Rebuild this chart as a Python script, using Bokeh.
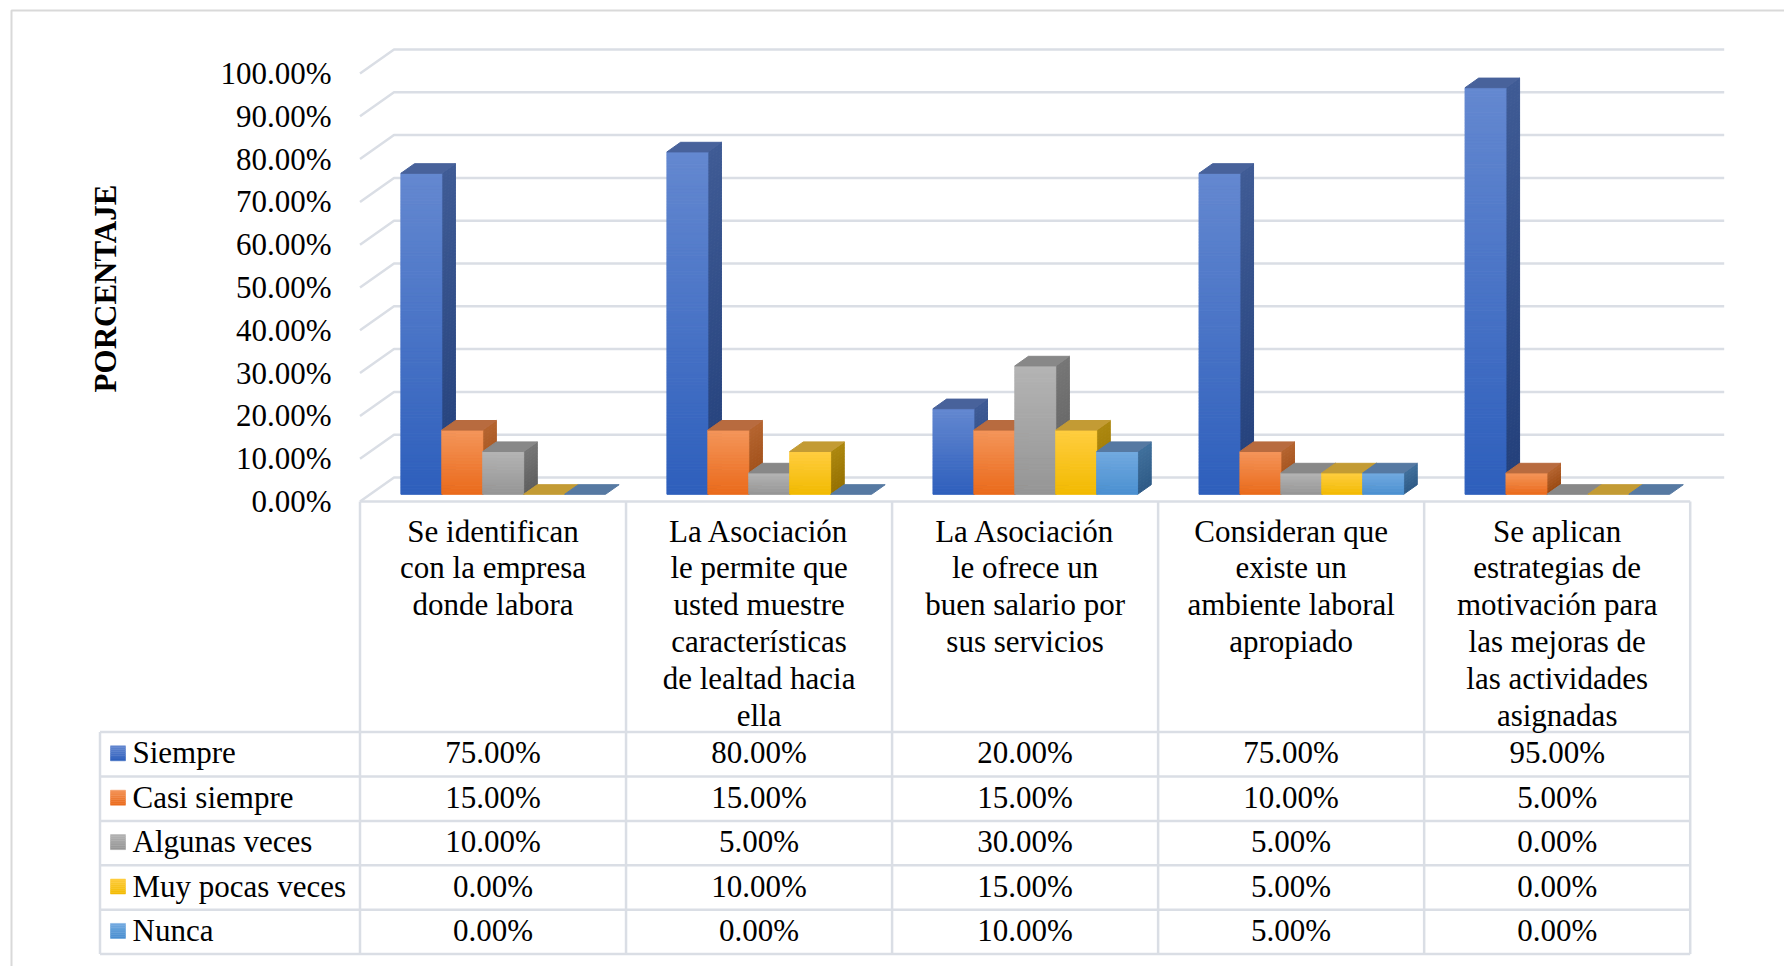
import numpy as np
from bokeh.plotting import figure
from bokeh.models import Range1d
from bokeh.embed import file_html
from bokeh.resources import INLINE
from bokeh.core.properties import value

# ---------------- data ----------------
categories = [
    "Se identifican\ncon la empresa\ndonde labora",
    "La Asociación\nle permite que\nusted muestre\ncaracterísticas\nde lealtad hacia\nella",
    "La Asociación\nle ofrece un\nbuen salario por\nsus servicios",
    "Consideran que\nexiste un\nambiente laboral\napropiado",
    "Se aplican\nestrategias de\nmotivación para\nlas mejoras de\nlas actividades\nasignadas",
]
series_names = ["Siempre", "Casi siempre", "Algunas veces", "Muy pocas veces", "Nunca"]
siempre = [75, 80, 20, 75, 95]
casi_siempre = [15, 15, 15, 10, 5]
algunas_veces = [10, 5, 30, 5, 0]
muy_pocas_veces = [0, 10, 15, 5, 0]
nunca = [0, 0, 10, 5, 0]
y_ticks = [0, 10, 20, 30, 40, 50, 60, 70, 80, 90, 100]
y_tick_labels = ["0.00%", "10.00%", "20.00%", "30.00%", "40.00%", "50.00%",
                 "60.00%", "70.00%", "80.00%", "90.00%", "100.00%"]
y_title = "PORCENTAJE"

series_values = [siempre, casi_siempre, algunas_veces, muy_pocas_veces, nunca]

# colours: (front top, front bottom, side top, side bottom, top face)
palette = [
    ("#6488D0", "#2E5FBC", "#3F5B95", "#223F7A", "#48629B"),
    ("#F4955A", "#EA6A1A", "#B5642F", "#9A4912", "#B86B3F"),
    ("#B4B4B4", "#959595", "#767676", "#5E5E5E", "#888888"),
    ("#FFCD40", "#F2BA00", "#AD880F", "#957000", "#C39B34"),
    ("#72AAE0", "#4A8FD0", "#40709C", "#2E5A86", "#5679A2"),
]

# ---------------- layout (pixels) ----------------
W, H = 1784, 966
PX_LEFT, PX_RIGHT = 359.5, 1689.7     # table/category span
PY0, PY100 = 501.0, 73.0              # front 0% and 100%
UX = (PX_RIGHT - PX_LEFT) / len(categories)
UY = (PY0 - PY100) / 100.0


def X(px):
    return (px - PX_LEFT) / UX


def Y(py):
    return (PY0 - py) / UY


DX = 34 / UX          # floor depth in x units
DY = 24 / UY          # floor depth in % units
D0, D1 = 0.3, 0.7     # bar depth placement
BW = 1 / 6.5          # bar width (gap 150%)

GRID = "#DADEE5"
FONT = value("Liberation Serif")
FS = "31px"

p = figure(width=W, height=H, x_range=Range1d(X(0), X(W)), y_range=Range1d(Y(H), Y(0)),
           toolbar_location=None, output_backend="svg", min_border=0)
p.xaxis.visible = False
p.yaxis.visible = False
p.grid.visible = False
p.outline_line_color = None
p.background_fill_color = "white"
p.border_fill_color = "white"

# outer chart frame
p.multi_line(xs=[[X(11), X(11), X(W + 20)]], ys=[[Y(H + 20), Y(10), Y(10)]],
             line_color="#D9D9D9", line_width=2)

# gridlines: back wall + left side wall
gx, gy = [], []
n = len(categories)
for t in y_ticks:
    gx.append([0, DX, n + DX])
    gy.append([t, t + DY, t + DY])
p.multi_line(xs=gx, ys=gy, line_color=GRID, line_width=2.5)


def mix(c1, c2, t):
    a = np.array([int(c1[i:i + 2], 16) for i in (1, 3, 5)], float)
    b = np.array([int(c2[i:i + 2], 16) for i in (1, 3, 5)], float)
    c = a * (1 - t) + b * t
    return "#%02X%02X%02X" % tuple(int(round(v)) for v in c)


# bars
pxs, pys, pcol = [], [], []
for i in range(n):
    for j, vals in enumerate(series_values):
        v = vals[i]
        ftop, fbot, stop, sbot, topc = palette[j]
        x0 = i + 0.75 * BW + j * BW + D0 * DX
        x1 = x0 + BW
        yb = D0 * DY
        yt = v + D0 * DY
        ddx, ddy = (D1 - D0) * DX, (D1 - D0) * DY
        if v > 0:
            ns = max(4, int(v * 1.4))
            for k in range(ns):
                ya = yb + (yt - yb) * k / ns
                yc = yb + (yt - yb) * (k + 1) / ns
                tt = (k + 0.5) / ns
                pxs.append([x1, x1 + ddx, x1 + ddx, x1])
                pys.append([ya, ya + ddy, yc + ddy, yc])
                pcol.append(mix(sbot, stop, tt))
            for k in range(ns):
                ya = yb + (yt - yb) * k / ns
                yc = yb + (yt - yb) * (k + 1) / ns
                tt = (k + 0.5) / ns
                pxs.append([x0, x1, x1, x0])
                pys.append([ya, ya, yc, yc])
                pcol.append(mix(fbot, ftop, tt))
        # top face
        pxs.append([x0, x1, x1 + ddx, x0 + ddx])
        pys.append([yt, yt, yt + ddy, yt + ddy])
        pcol.append(topc)

p.patches(xs=pxs, ys=pys, fill_color=pcol, line_color=pcol, line_width=1.0)

# y tick labels
p.text(x=[X(331)] * len(y_ticks), y=y_ticks, text=y_tick_labels, text_font=FONT,
       text_font_size=FS, text_align="right", text_baseline="middle", text_color="#000000")

# y title
p.text(x=[X(105)], y=[Y(288)], text=[y_title], angle=np.pi / 2, text_font=FONT,
       text_font_size=FS, text_font_style="bold", text_align="center",
       text_baseline="middle", text_color="#000000")

# ---------------- data table ----------------
TL = 99.5
ROW_TOP = 731.6
ROW_H = 44.4
rows_y = [ROW_TOP + ROW_H * r for r in range(len(series_names) + 1)]

lx, ly = [], []
lx.append([0, n]); ly.append([0, 0])
for ry in rows_y:
    lx.append([X(TL), n]); ly.append([Y(ry), Y(ry)])
for c in range(n + 1):
    lx.append([c, c]); ly.append([0, Y(rows_y[-1])])
lx.append([X(TL), X(TL)]); ly.append([Y(rows_y[0]), Y(rows_y[-1])])
p.multi_line(xs=lx, ys=ly, line_color=GRID, line_width=2.5)

# header text lines
hx, hy, ht = [], [], []
for c, lab in enumerate(categories):
    for k, line in enumerate(lab.split("\n")):
        hx.append(c + 0.5)
        hy.append(Y(530.5 + 36.9 * k))
        ht.append(line)
p.text(x=hx, y=hy, text=ht, text_font=FONT, text_font_size=FS, text_align="center",
       text_baseline="middle", text_color="#000000")

# cell values
cx, cy, ctext = [], [], []
for r, vals in enumerate(series_values):
    for c, v in enumerate(vals):
        cx.append(c + 0.5)
        cy.append(Y(rows_y[r] + ROW_H / 2 - 1.5))
        ctext.append("%.2f%%" % v)
p.text(x=cx, y=cy, text=ctext, text_font=FONT, text_font_size=FS, text_align="center",
       text_baseline="middle", text_color="#000000")

# legend keys and names
kx, ky, kc = [], [], []
for r, name in enumerate(series_names):
    ftop, fbot = palette[r][0], palette[r][1]
    ymid = rows_y[r] + ROW_H / 2 - 1
    for k in range(8):
        ya = ymid + 7.5 - 15 * k / 8
        yc = ymid + 7.5 - 15 * (k + 1) / 8
        kx.append([X(110), X(125), X(125), X(110)])
        ky.append([Y(ya), Y(ya), Y(yc), Y(yc)])
        kc.append(mix(fbot, ftop, (k + 0.5) / 8))
p.patches(xs=kx, ys=ky, fill_color=kc, line_color=kc, line_width=0.5)
p.text(x=[X(132)] * len(series_names),
       y=[Y(rows_y[r] + ROW_H / 2 - 1.5) for r in range(len(series_names))],
       text=series_names, text_font=FONT, text_font_size=FS, text_align="left",
       text_baseline="middle", text_color="#000000")

open("out.html", "w").write(file_html(p, INLINE))
